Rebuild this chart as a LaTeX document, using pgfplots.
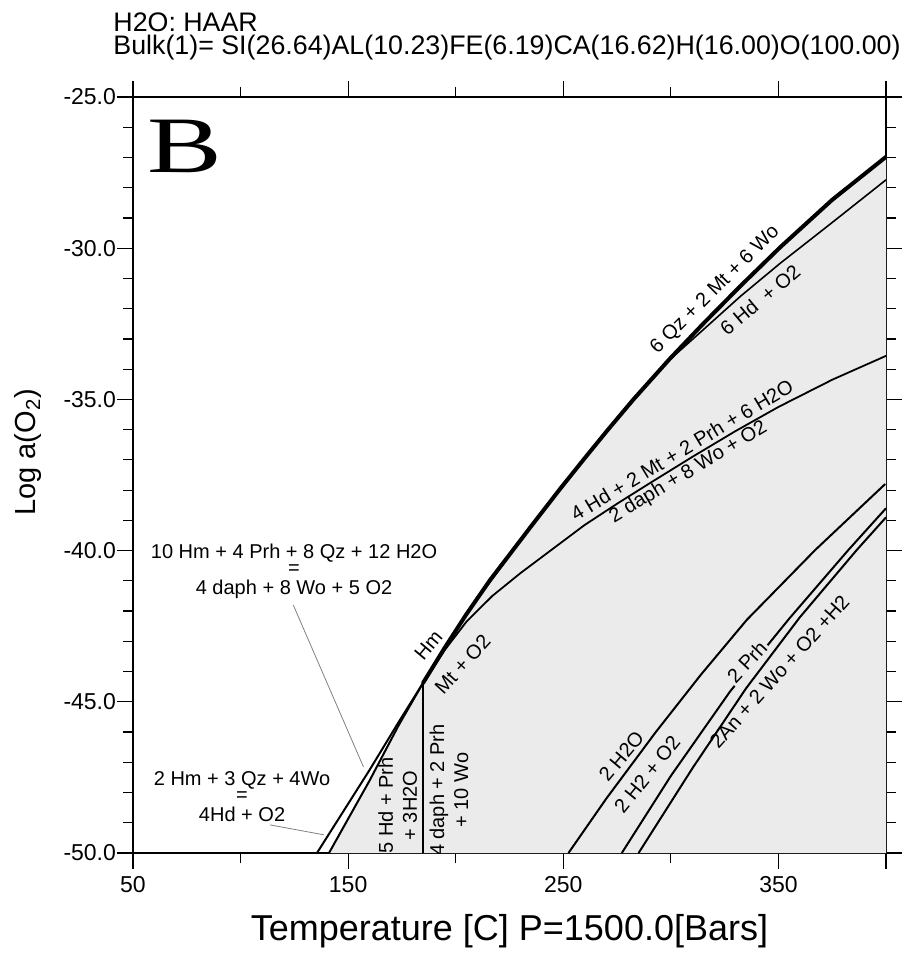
\documentclass[border=0pt]{standalone}
\usepackage{fontspec}
\setmainfont{Liberation Sans}
\newfontfamily\seriffont{Liberation Serif}
\usepackage{pgfplots}
\pgfplotsset{compat=1.18}

\begin{document}
\begin{tikzpicture}
\begin{axis}[
    at={(0,0)}, anchor=south west,
    scale only axis, width=376.5pt, height=378pt,
    xmin=50, xmax=400, ymin=-50, ymax=-25,
    axis line style={line width=1pt},
    xtick={50,150,250,350,400},
    xticklabels={50,150,250,350,},
    minor xtick={100,200,300},
    ytick={-50,-45,-40,-35,-30,-25},
    yticklabels={-50.0,-45.0,-40.0,-35.0,-30.0,-25.0},
    minor ytick={-49,-48,...,-26},
    tick align=outside,
    major tick length=8pt, minor tick length=5pt,
    tick style={black, line width=0.6pt},
    ticklabel style={font=\fontsize{11.5}{13}\selectfont},
    yticklabel style={xshift=3pt},
    xlabel={Temperature [C] P=1500.0[Bars]},
    ylabel={Log a(O\textsubscript{2})},
    xlabel style={at={(axis description cs:0.5,0)}, anchor=base, yshift=-43.5pt,
        font=\fontsize{18}{20}\selectfont},
    ylabel style={at={(axis description cs:-0.139,0.53)}, anchor=center,
        font=\fontsize{14.5}{16}\selectfont},
    every node/.append style={font=\fontsize{10.5}{12.5}\selectfont},
]
% shaded field
\addplot[draw=none, fill=black!8] coordinates {
(141.1,-50) (160,-47.6) (173.3,-45.8) (184.7,-44.39) (195,-43.2) (205,-42.1)
(216,-40.97) (224.5,-40.18) (235,-39.2) (248.5,-37.96) (260,-36.94)
(270.2,-36.05) (282.6,-35.0) (299.6,-33.65) (315,-32.5) (332.2,-31.26)
(350.8,-29.97) (375,-28.4) (400,-26.98) (400,-50)};

% leader lines
\addplot[gray, line width=0.4pt] coordinates {(124.5,-41.8) (157.1,-47.15)};
\addplot[gray, line width=0.4pt] coordinates {(113.7,-49.07) (138.8,-49.4)};

% 2 Hm + 3 Qz + 4 Wo = 4 Hd + O2
\addplot[black, line width=1pt] coordinates {(135.5,-50) (160,-47.25) (173.3,-45.69) (184.7,-44.39)};
% lower branch of Hm / Mt
\addplot[black, line width=1pt] coordinates {(141.1,-50) (160,-47.6) (173.3,-45.8) (184.7,-44.39)};
% vertical line
\addplot[black, line width=0.8pt] coordinates {(184.7,-50) (184.7,-44.39)};
% 4 Hd + 2 Mt + 2 Prh + 6 H2O = 2 daph + 8 Wo + O2
\addplot[black, line width=0.9pt] coordinates {
(184.7,-44.39) (195,-43.28) (205,-42.35) (217,-41.5) (230,-40.75) (245,-39.95)
(260,-39.15) (275,-38.45) (290,-37.78) (310,-36.9) (330,-36.05) (350,-35.25)
(375,-34.35) (400,-33.56)};
% 6 Qz + 2 Mt + 6 Wo = 6 Hd + O2
\addplot[black, line width=0.8pt] coordinates {
(184.7,-44.39) (205,-42.1) (235,-39.2) (270.2,-36.05) (299.6,-33.68)
(315,-32.7) (332.2,-31.6) (350.8,-30.5) (375,-29.15) (400,-27.74)};
% Hm = Mt + O2
\addplot[black, line width=2pt] coordinates {
(184.7,-44.39) (195,-43.2) (205,-42.1) (216,-40.97) (224.5,-40.18) (235,-39.2)
(248.5,-37.96) (260,-36.94) (270.2,-36.05) (282.6,-35.0) (299.6,-33.65)
(315,-32.5) (332.2,-31.26) (350.8,-29.97) (375,-28.4) (400,-26.98)};
% 2 H2O = 2 H2 + O2
\addplot[black, line width=1pt] coordinates {
(252.4,-50) (270,-48.2) (293,-46.0) (314,-44.1) (335.3,-42.29) (367.1,-39.98) (399.6,-37.8)};
% two Prh lines
\addplot[black, line width=1pt] coordinates {
(277.2,-50) (300,-47.45) (327.5,-44.66) (355,-42.25) (382.5,-39.98) (400,-38.6)};
\addplot[black, line width=1pt] coordinates {
(285,-50) (310,-47.2) (335,-44.55) (360,-42.2) (386.4,-39.98) (400,-38.9)};

% labels
\node at (axis cs:74.2,-26.64) {\seriffont\fontsize{40}{42}\selectfont\scalebox{1.4}[1]{B}};
\node[rotate=45] at (axis cs:320.6,-31.38) {6 Qz + 2 Mt + 6 Wo};
\node[rotate=40] at (axis cs:341.5,-31.71) {6 Hd \ + O2};
\node[rotate=31] at (axis cs:305.1,-36.67) {4 Hd + 2 Mt + 2 Prh + 6 H2O};
\node[rotate=31] at (axis cs:308.2,-37.42) {2 daph + 8 Wo + O2};
\node[rotate=50] at (axis cs:187.3,-43.12) {Hm};
\node[rotate=48] at (axis cs:203.2,-43.76) {Mt + O2};
\node[rotate=90, align=center] at (axis cs:173.0,-48.43) {5 Hd + Prh\\+ 3H2O};
\node[rotate=90, align=center] at (axis cs:196.9,-47.92) {4 daph + 2 Prh\\+ 10 Wo};
\node[rotate=50] at (axis cs:277.0,-46.8) {2 H2O};
\node[rotate=51] at (axis cs:289.0,-47.4) {2 H2 + O2};
\node[rotate=47, fill=black!8, inner sep=1pt] at (axis cs:335.3,-43.67) {2 Prh};
\node[rotate=48] at (axis cs:350.5,-44.0) {2An + 2 Wo + O2 +H2};
\node[align=center, inner sep=0pt] at (axis cs:124.85,-40.67)
  {10 Hm + 4 Prh + 8 Qz + 12 H2O\\[-4pt]=\\[-2pt]4 daph + 8 Wo + 5 O2};
\node[align=center, inner sep=0pt] at (axis cs:100.7,-48.15)
  {2 Hm + 3 Qz + 4Wo\\[-4pt]=\\[-2pt]4Hd + O2};
\end{axis}
\node[anchor=base west, inner sep=0pt, font=\fontsize{13.4}{15}\selectfont] at (-10pt,410.5pt) {H2O: HAAR};
\node[anchor=base west, inner sep=0pt, font=\fontsize{13.4}{15}\selectfont] at (-10pt,399pt)
  {Bulk(1)= SI(26.64)AL(10.23)FE(6.19)CA(16.62)H(16.00)O(100.00)};
\path[use as bounding box] (-66.5pt,-51.5pt) rectangle (385.5pt,426.5pt);
\end{tikzpicture}
\end{document}
